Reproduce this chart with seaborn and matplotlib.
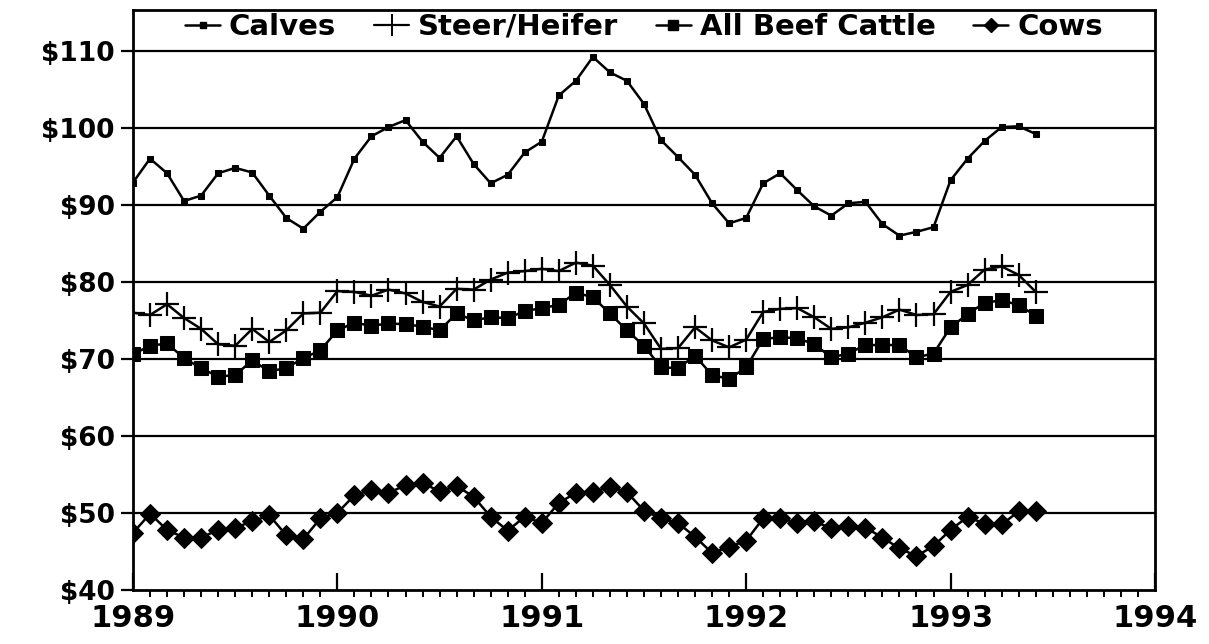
import numpy as np
import pandas as pd
import matplotlib
matplotlib.use("Agg")
import matplotlib.pyplot as plt
from matplotlib.ticker import MultipleLocator, FuncFormatter
from matplotlib.lines import Line2D
import seaborn as sns

# monthly prices, Jan 1989 - Jun 1993 ($/cwt)
calves = [92.9, 96.0, 94.1, 90.5, 91.2, 94.1, 94.8, 94.2, 91.2, 88.3, 86.9, 89.1,
          91.0, 96.0, 98.9, 100.1, 101.0, 98.2, 96.1, 98.9, 95.3, 92.8, 93.9, 96.8,
          98.2, 104.2, 106.1, 109.2, 107.2, 106.1, 103.1, 98.4, 96.2, 93.9, 90.2, 87.6,
          88.3, 92.8, 94.1, 91.9, 89.8, 88.6, 90.2, 90.4, 87.5, 86.0, 86.5, 87.1,
          93.2, 96.0, 98.3, 100.1, 100.2, 99.2]
steer_heifer = [76.0, 75.7, 77.1, 75.3, 73.9, 71.9, 71.7, 73.9, 72.2, 73.7, 75.9, 76.0,
                78.8, 78.7, 78.2, 79.0, 78.5, 77.4, 76.8, 79.1, 79.0, 80.3, 81.2, 81.4,
                81.7, 81.4, 82.5, 82.1, 79.6, 76.8, 74.6, 71.3, 71.4, 74.1, 72.4, 71.5,
                72.5, 76.1, 76.5, 76.6, 75.4, 73.9, 74.1, 74.7, 75.4, 76.4, 75.7, 75.8,
                78.7, 79.6, 81.6, 82.0, 80.9, 78.7]
all_beef = [70.6, 71.7, 72.0, 70.1, 68.8, 67.7, 67.9, 69.8, 68.4, 68.8, 70.1, 71.1,
            73.7, 74.7, 74.3, 74.6, 74.5, 74.2, 73.7, 75.9, 75.0, 75.4, 75.3, 76.2,
            76.6, 77.0, 78.6, 78.0, 75.9, 73.7, 71.7, 68.9, 68.8, 70.4, 67.9, 67.4,
            68.9, 72.6, 72.8, 72.7, 71.9, 70.2, 70.7, 71.8, 71.8, 71.8, 70.2, 70.7,
            74.1, 75.8, 77.3, 77.6, 77.0, 75.6]
cows = [47.4, 49.9, 47.8, 46.8, 46.8, 47.8, 48.1, 48.9, 49.7, 47.1, 46.6, 49.3,
        50.0, 52.3, 53.0, 52.6, 53.6, 53.9, 52.8, 53.5, 52.1, 49.5, 47.7, 49.5,
        48.7, 51.3, 52.6, 52.7, 53.4, 52.7, 50.3, 49.3, 48.7, 46.9, 44.8, 45.6,
        46.4, 49.3, 49.3, 48.7, 48.9, 48.0, 48.3, 48.1, 46.8, 45.4, 44.4, 45.7,
        47.8, 49.5, 48.6, 48.5, 50.2, 50.2]

series_names = ["Calves", "Steer/Heifer", "All Beef Cattle", "Cows"]
year_ticks = [1989, 1990, 1991, 1992, 1993, 1994]

n = len(calves)
dates = 1989 + np.arange(n) / 12.0

df = pd.DataFrame({"date": dates, "Calves": calves, "Steer/Heifer": steer_heifer,
                   "All Beef Cattle": all_beef, "Cows": cows})
long = df.melt(id_vars="date", var_name="series", value_name="price")

sns.set_style("white")
plt.rcParams['font.family'] = ['DejaVu Sans']
plt.rcParams.update({"text.color": "black", "xtick.color": "black",
                     "ytick.color": "black", "axes.labelcolor": "black"})

fig = plt.figure(figsize=(12.09, 6.44), dpi=100)
ax = fig.add_axes([0.110, 0.0839, 0.8453, 0.9006])

styles = {
    "Calves": dict(marker="s", markersize=5),
    "Steer/Heifer": dict(marker="+", markersize=17, markeredgewidth=1.6),
    "All Beef Cattle": dict(marker="s", markersize=10),
    "Cows": dict(marker="D", markersize=10),
}

for name in series_names:
    sub = long[long["series"] == name]
    sns.lineplot(data=sub, x="date", y="price", ax=ax, color="black",
                 linewidth=1.8, markeredgecolor="black", markerfacecolor="black",
                 legend=False, **styles[name])

ax.set_xlim(1989, 1994)
ax.set_ylim(40, 115.3)
ax.set_yticks([40, 50, 60, 70, 80, 90, 100, 110])
ax.yaxis.set_major_formatter(FuncFormatter(lambda v, p: f"${int(v)}"))
ax.set_xticks(year_ticks)
ax.xaxis.set_minor_locator(MultipleLocator(1 / 12))
ax.set_xlabel("")
ax.set_ylabel("")

for v in [50, 60, 70, 80, 90, 100, 110]:
    ax.axhline(v, color="black", linewidth=1.6, zorder=1)

for s in ax.spines.values():
    s.set_color("black")
    s.set_linewidth(2)

ax.tick_params(axis="y", which="major", direction="out", length=9, width=1.6,
               labelsize=19, pad=4, left=True, colors="black")
ax.tick_params(axis="x", which="major", direction="in", length=12, width=1.6,
               labelsize=22, pad=10, bottom=True, colors="black")
ax.tick_params(axis="x", which="minor", direction="out", length=5, width=1.4,
               bottom=True, colors="black")
for lab in ax.get_xticklabels() + ax.get_yticklabels():
    lab.set_fontweight("bold")

handles = [Line2D([], [], color="black", linewidth=1.8, marker="s", markersize=4),
           Line2D([], [], color="black", linewidth=1.6, marker="+", markersize=16,
                  markeredgewidth=1.4),
           Line2D([], [], color="black", linewidth=1.8, marker="s", markersize=7),
           Line2D([], [], color="black", linewidth=1.8, marker="D", markersize=7)]
leg = ax.legend(handles, series_names, loc="center", bbox_to_anchor=(0.5, 0.971),
                ncol=4, frameon=False, handlelength=1.2, handletextpad=0.3,
                columnspacing=1.3, prop={"size": 21, "weight": "bold"})

fig.savefig("out.png", dpi=100)
